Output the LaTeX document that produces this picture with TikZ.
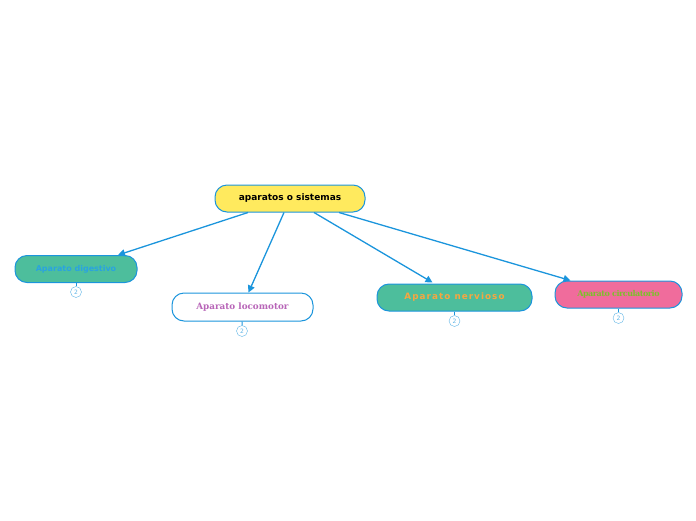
\documentclass[tikz,border=0pt]{standalone}
\usepackage{fontspec}
\setmainfont{DejaVu Sans}
\newfontfamily\serifbold{DejaVu Serif}
\usepackage{xcolor}
\usetikzlibrary{arrows.meta,positioning,calc}
\definecolor{MapBlue}{HTML}{1B95DC}
\definecolor{RootYellow}{HTML}{FFEA5E}
\definecolor{TealFill}{HTML}{4DBE9C}
\definecolor{PinkFill}{HTML}{F06C9C}
\definecolor{DigText}{HTML}{2AA3E0}
\definecolor{LocoText}{HTML}{B865B8}
\definecolor{NervText}{HTML}{F7A640}
\definecolor{CircText}{HTML}{7CC02C}

\begin{document}
\begin{tikzpicture}[
	x=1pt, y=1pt,
	topic/.style={draw=MapBlue, line width=1pt, rounded corners=12pt, align=center, inner sep=0pt, minimum height=27pt},
	count/.style={draw=MapBlue!70, circle, fill=white, inner sep=0pt, minimum size=11pt, font=\fontsize{6}{6}\selectfont, text=MapBlue!70},
	arrow/.style={-{Triangle[length=7pt,width=7pt]}, MapBlue, line width=1.3pt},
	stub/.style={MapBlue, line width=1pt}
]
\useasboundingbox (0,0) rectangle (696,-520);

\node[topic, fill=RootYellow, minimum width=150pt, font=\bfseries\fontsize{9}{10}\selectfont] (root) at (290,-198.5) {aparatos o sistemas};

\node[topic, fill=TealFill, minimum width=122pt, text=DigText, font=\bfseries\fontsize{8}{9}\selectfont] (digestivo) at (76,-269) {Aparato digestivo};
\node[topic, fill=white, minimum width=141pt, minimum height=28pt, text=LocoText, font=\serifbold\bfseries\fontsize{8.8}{10}\selectfont] (locomotor) at (242.5,-307) {Aparato locomotor};
\node[topic, fill=TealFill, minimum width=155pt, text=NervText, font=\bfseries\fontsize{8.8}{10}\selectfont] (nervioso) at (454.5,-297.5) {\addfontfeature{LetterSpace=12}Aparato nervioso};
\node[topic, fill=PinkFill, minimum width=127pt, text=CircText, font=\serifbold\bfseries\fontsize{8}{9}\selectfont] (circulatorio) at (618.5,-294.5) {\addfontfeature{LetterSpace=-6}Aparato circulatorio};

% counters under the topics
\node[count] (digestivo-n) at (76,-292) {2};
\node[count] (locomotor-n) at (242,-331) {2};
\node[count] (nervioso-n) at (454.5,-321) {2};
\node[count] (circulatorio-n) at (618.5,-318) {2};

\draw[stub] (digestivo) -- (digestivo-n);
\draw[stub] (locomotor) -- (locomotor-n);
\draw[stub] (nervioso) -- (nervioso-n);
\draw[stub] (circulatorio) -- (circulatorio-n);

\draw[arrow] ($(root.south)+(-42,0)$) -- ($(digestivo.north)+(42,0)$);
\draw[arrow] ($(root.south)+(-6,0)$) -- ($(locomotor.north)+(6,0)$);
\draw[arrow] ($(root.south)+(24,0)$) -- ($(nervioso.north)+(-22,1)$);
\draw[arrow] ($(root.south)+(49,0)$) -- ($(circulatorio.north)+(-48,0)$);
\end{tikzpicture}
\end{document}
